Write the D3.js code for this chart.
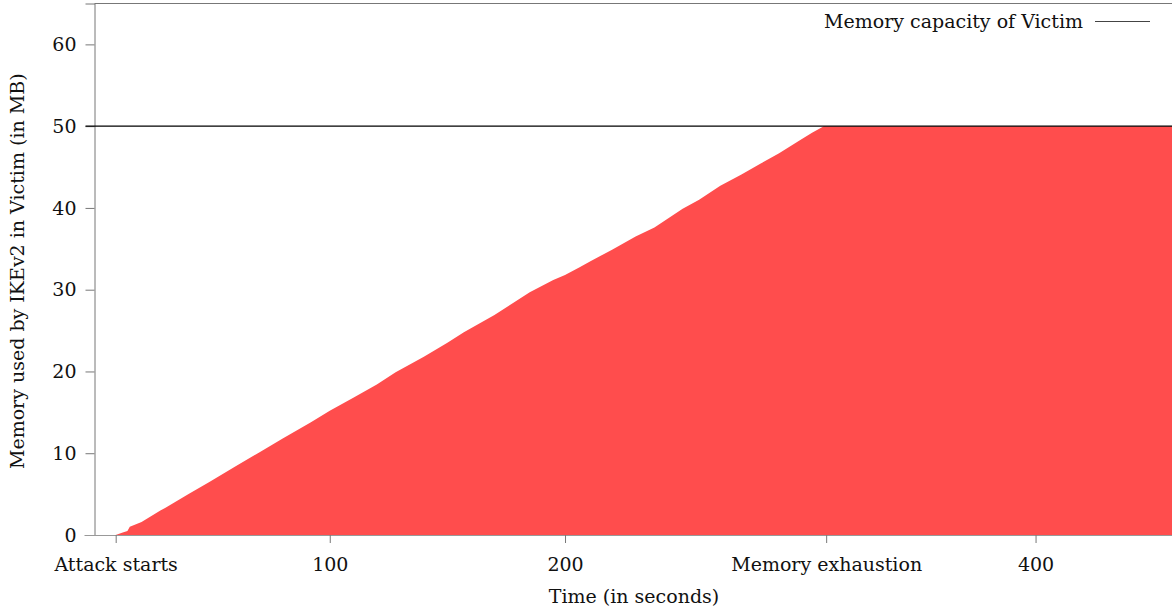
<!DOCTYPE html>
<html><head><meta charset="utf-8">
<script src="https://cdn.jsdelivr.net/npm/d3@7"></script>
<style>
html,body{margin:0;padding:0;background:#fff;}
svg text{font-family:"DejaVu Serif",serif;fill:#111;}
</style></head>
<body><svg id="c" width="1172" height="610"></svg>
<script>
const times = [9,12,14,15,20,28,30,40,49,60,70,80,92,100,110,120,128,140,150,157,170,185,195,200,206,211,220,230,238,250,257,266,275,283,291,300,305,310,458];
const memory = [0,0.3,0.5,1.0,1.6,3.0,3.3,5.0,6.5,8.4,10.1,11.8,13.8,15.2,16.8,18.4,19.9,21.8,23.5,24.8,26.9,29.7,31.2,31.8,32.7,33.5,34.9,36.5,37.6,39.9,41.0,42.7,44.1,45.4,46.7,48.3,49.2,50,50];
const capacity = 50;
const xTickValues = [9,100,200,311,400];
const xTickLabels = ["Attack starts","100","200","Memory exhaustion","400"];
const yTickValues = [0,10,20,30,40,50,60];
const legendLabel = "Memory capacity of Victim";

const svg = d3.select("#c");
const L=94.5, R=1172, T=3.5, B=535;
const FS = "19px";
const x = d3.scaleLinear().domain([0,458]).range([L,R]);
const y = d3.scaleLinear().domain([0,65]).range([B,T]);

const data = times.map((t,i)=>({t, v:memory[i]}));
svg.append("path").datum(data)
  .attr("fill","#ff4d4d")
  .attr("d", d3.area().x(d=>x(d.t)).y0(y(0)).y1(d=>y(d.v)));

svg.append("line").attr("x1",L).attr("x2",R).attr("y1",T).attr("y2",T).attr("stroke","#777").attr("stroke-width",1);

const ya = svg.append("g").attr("transform",`translate(${L},0)`)
  .call(d3.axisLeft(y).tickValues(yTickValues).tickSize(9).tickPadding(9));
ya.select(".domain").attr("stroke","#777");
ya.selectAll(".tick line").attr("stroke","#777");
ya.selectAll("text").style("font-size",FS).attr("fill","#111");

const xa = svg.append("g").attr("transform",`translate(0,${B})`)
  .call(d3.axisBottom(x).tickValues(xTickValues).tickFormat((d,i)=>xTickLabels[i]).tickSize(8).tickPadding(15));
xa.select(".domain").attr("stroke","#999").attr("d",`M${L-10},0.5H${R}`);
xa.selectAll(".tick line").attr("stroke","#777");
xa.selectAll("text").style("font-size",FS).attr("fill","#111");

svg.append("line").attr("x1",L-9).attr("x2",R).attr("y1",y(capacity)).attr("y2",y(capacity)).attr("stroke","#000").attr("stroke-width",1.2);

svg.append("text").attr("x",1083).attr("y",28).attr("text-anchor","end").style("font-size",FS).text(legendLabel);
svg.append("line").attr("x1",1095).attr("x2",1150).attr("y1",21.5).attr("y2",21.5).attr("stroke","#444").attr("stroke-width",1.2);

svg.append("text").attr("x",634).attr("y",603).attr("text-anchor","middle").style("font-size",FS).text("Time (in seconds)");
svg.append("text").attr("transform",`translate(24,${(T+B)/2+2}) rotate(-90)`).attr("text-anchor","middle").style("font-size",FS).text("Memory used by IKEv2 in Victim (in MB)");
</script></body></html>
